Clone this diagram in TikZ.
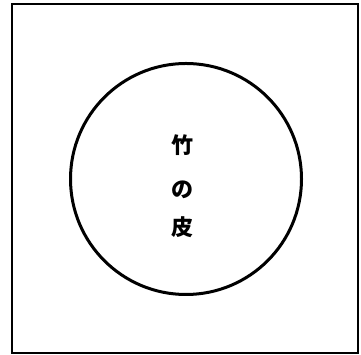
\documentclass[tikz,border=0pt]{standalone}
\usepackage{fontspec}
\newfontfamily\cjk{Noto Sans CJK JP}
\begin{document}
\begin{tikzpicture}[x=1pt,y=1pt,
  frame/.style={draw=black,line width=2.2pt},
  ring/.style={draw=black,line width=3pt},
  glyph/.style={font=\cjk\bfseries\fontsize{22}{22}\selectfont,inner sep=0pt}]
\useasboundingbox (0,0) rectangle (361,355);
\draw[frame] (12,2) rectangle (358,351);
\node[ring,circle,minimum width=231pt,minimum height=231pt,inner sep=0pt] (c) at (186,176) {};
\node[glyph] (t1) at (182,210) {竹};
\node[glyph] (t2) at (182,165) {の};
\node[glyph] (t3) at (182,128) {皮};
\end{tikzpicture}
\end{document}
